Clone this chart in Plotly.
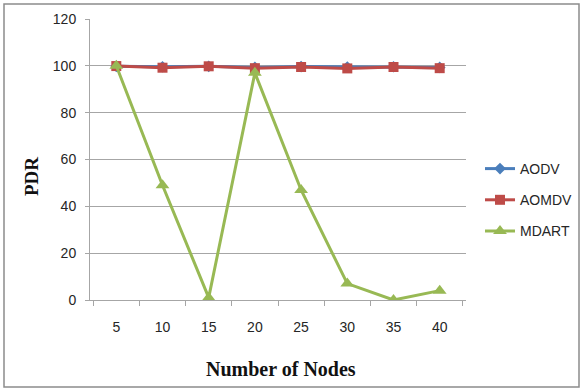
import plotly.graph_objects as go

# Packet delivery ratio against network size
nodes = ["5", "10", "15", "20", "25", "30", "35", "40"]
aodv = [99.8, 99.6, 99.8, 99.3, 99.7, 99.5, 99.6, 99.3]
aomdv = [99.9, 99.2, 99.8, 99.0, 99.5, 98.9, 99.5, 99.0]
mdart = [100, 49, 1, 97, 47, 7, 0, 4]

W, H = 583, 390
ML, MR, MT, MB = 90, 117, 19, 90
pw, ph = W - ML - MR, H - MT - MB

fig = go.Figure()
fig.add_trace(go.Scatter(
    x=nodes, y=aodv, name="AODV", legendgroup="a", mode="lines+markers",
    line=dict(color="#4A7EBB", width=3),
    marker=dict(symbol="diamond", size=9, color="#4A7EBB"),
))
fig.add_trace(go.Scatter(
    x=nodes, y=aomdv, name="AOMDV", legendgroup="b", mode="lines+markers",
    line=dict(color="#BE4B48", width=3),
    marker=dict(symbol="square", size=10, color="#BE4B48"),
))
fig.add_trace(go.Scatter(
    x=nodes, y=mdart, name="MDART", legendgroup="c", mode="lines+markers",
    line=dict(color="#98B954", width=3),
    marker=dict(symbol="triangle-up", size=12, color="#98B954"),
))

def px_x(p):
    return (p - ML) / pw

def px_y(p):
    return (H - MB - p) / ph

title_font = dict(family="Liberation Serif, Times New Roman, serif", size=20, color="#111")

fig.update_layout(
    width=W, height=H,
    margin=dict(l=ML, r=MR, t=MT, b=MB, autoexpand=False),
    paper_bgcolor="white", plot_bgcolor="white",
    font=dict(family="Liberation Sans, Arial, sans-serif", size=14, color="#262626"),
    showlegend=True,
    legend=dict(
        x=px_x(480), y=px_y(153), xanchor="left", yanchor="top",
        bgcolor="rgba(0,0,0,0)", font=dict(size=14, color="#262626"),
        tracegroupgap=10, itemwidth=30,
    ),
    xaxis=dict(
        type="category", tickson="boundaries", ticks="outside", ticklen=5,
        tickcolor="#A6A6A6", showline=True, linecolor="#A6A6A6", linewidth=1,
        showgrid=False, zeroline=False, ticklabelstandoff=14,
    ),
    yaxis=dict(
        range=[0, 120], dtick=20, ticks="outside", ticklen=4, tickcolor="#A6A6A6",
        showline=True, linecolor="#A6A6A6", linewidth=1, ticklabelstandoff=6,
        showgrid=True, gridcolor="#A6A6A6", gridwidth=1, zeroline=False,
    ),
    annotations=[
        dict(text="<b>Number of Nodes</b>", xref="paper", yref="paper",
             x=px_x(281), y=px_y(369), xanchor="center", yanchor="middle",
             showarrow=False, font=title_font),
        dict(text="<b>PDR</b>", xref="paper", yref="paper", textangle=-90,
             x=px_x(31), y=px_y(177), xanchor="center", yanchor="middle",
             showarrow=False, font=dict(title_font, size=19)),
    ],
    shapes=[dict(
        type="rect", xref="paper", yref="paper",
        x0=px_x(4), x1=px_x(579), y0=px_y(387), y1=px_y(4),
        line=dict(color="#8C8C8C", width=1.5), fillcolor="rgba(0,0,0,0)", layer="below",
    )],
)

fig.write_html("out.html")
